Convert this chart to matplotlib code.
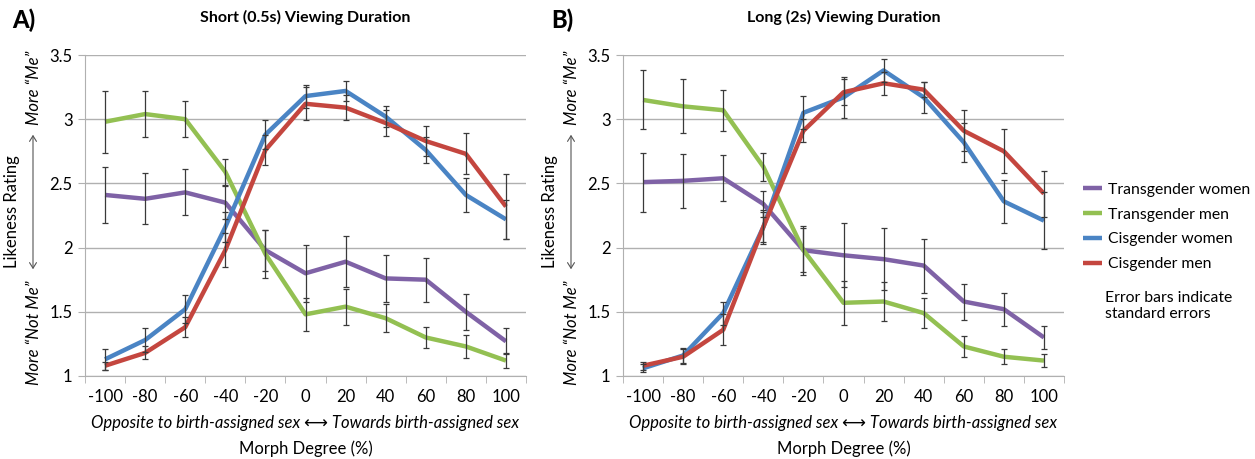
"""Likeness ratings by morph degree, short vs long viewing duration"""
import matplotlib
matplotlib.use('Agg')
import matplotlib.pyplot as plt

plt.rcParams['font.family'] = ['Lato', 'DejaVu Sans']

MORPH = [-100, -80, -60, -40, -20, 0, 20, 40, 60, 80, 100]
GROUPS = ['Transgender women', 'Transgender men', 'Cisgender women', 'Cisgender men']
COLORS = ['#7F62A6', '#93C052', '#4A84C4', '#C4463F']

# short (0.5s) viewing
tw_short = [2.41, 2.38, 2.43, 2.35, 1.98, 1.80, 1.89, 1.76, 1.75, 1.50, 1.27]
tw_short_se = [0.22, 0.20, 0.18, 0.13, 0.16, 0.22, 0.20, 0.18, 0.17, 0.14, 0.10]
tm_short = [2.98, 3.04, 3.00, 2.59, 1.95, 1.48, 1.54, 1.45, 1.30, 1.23, 1.12]
tm_short_se = [0.24, 0.18, 0.14, 0.10, 0.19, 0.13, 0.14, 0.11, 0.08, 0.09, 0.06]
cw_short = [1.13, 1.28, 1.52, 2.16, 2.88, 3.18, 3.22, 3.02, 2.76, 2.41, 2.22]
cw_short_se = [0.08, 0.09, 0.11, 0.12, 0.11, 0.09, 0.08, 0.08, 0.10, 0.13, 0.15]
cm_short = [1.08, 1.18, 1.38, 1.98, 2.76, 3.12, 3.09, 2.97, 2.83, 2.73, 2.32]
cm_short_se = [0.03, 0.05, 0.08, 0.13, 0.12, 0.13, 0.10, 0.10, 0.12, 0.16, 0.25]

# long (2s) viewing
tw_long = [2.51, 2.52, 2.54, 2.34, 1.98, 1.94, 1.91, 1.86, 1.58, 1.52, 1.30]
tw_long_se = [0.23, 0.21, 0.18, 0.10, 0.17, 0.25, 0.24, 0.21, 0.14, 0.13, 0.09]
tm_long = [3.15, 3.10, 3.07, 2.63, 1.98, 1.57, 1.58, 1.49, 1.23, 1.15, 1.12]
tm_long_se = [0.23, 0.21, 0.16, 0.11, 0.19, 0.17, 0.15, 0.12, 0.08, 0.06, 0.05]
cw_long = [1.06, 1.16, 1.49, 2.16, 3.05, 3.17, 3.38, 3.17, 2.82, 2.36, 2.21]
cw_long_se = [0.03, 0.06, 0.09, 0.12, 0.13, 0.16, 0.09, 0.12, 0.15, 0.17, 0.22]
cm_long = [1.08, 1.15, 1.36, 2.16, 2.91, 3.21, 3.28, 3.23, 2.91, 2.75, 2.42]
cm_long_se = [0.03, 0.06, 0.12, 0.13, 0.09, 0.10, 0.09, 0.06, 0.16, 0.17, 0.18]

YTICKS = [1, 1.5, 2, 2.5, 3, 3.5]
YTICK_LABELS = ['1', '1.5', '2', '2.5', '3', '3.5']

W, H = 1255, 459
GRID_COLOR = '#B0B0B0'
FS = 12
LEGEND_FS = 11.3


def px(x, y):
    "pixel coords (from top-left) -> figure fraction"
    return x / W, 1 - y / H


def draw_panel(fig, left_px, letter, title, series):
    x0, y0 = px(left_px, 376)
    ax = fig.add_axes([x0, y0, 441 / W, 321 / H])
    pos = list(range(len(MORPH)))
    for (vals, errs), color, label in zip(series, COLORS, GROUPS):
        ax.plot(pos, vals, color=color, linewidth=3.2, label=label,
                solid_capstyle='butt', zorder=3)
        ax.errorbar(pos, vals, yerr=errs, fmt='none', ecolor='#3a3a3a',
                    elinewidth=0.9, capsize=2.5, capthick=0.9, zorder=4)

    ax.set_xlim(-0.5, len(MORPH) - 0.5)
    ax.set_ylim(1, 3.5)
    ax.set_xticks(pos)
    ax.set_xticklabels([str(m) for m in MORPH], fontsize=FS)
    ax.set_xticks([p - 0.5 for p in pos] + [pos[-1] + 0.5], minor=True)
    ax.tick_params(axis='x', which='major', length=0, pad=9)
    ax.tick_params(axis='x', which='minor', length=5, color=GRID_COLOR, direction='out')
    ax.set_yticks(YTICKS)
    ax.set_yticklabels(YTICK_LABELS, fontsize=FS)
    ax.tick_params(axis='y', length=5, color=GRID_COLOR, pad=4)
    ax.yaxis.grid(True, color=GRID_COLOR, linewidth=1)
    ax.set_axisbelow(True)
    for side in ['top', 'right']:
        ax.spines[side].set_visible(False)
    for side in ['left', 'bottom']:
        ax.spines[side].set_color(GRID_COLOR)

    ax.text(0.5, -0.145, 'Opposite to birth-assigned sex \u27f7 Towards birth-assigned sex',
            transform=ax.transAxes, ha='center', va='center', fontsize=FS,
            style='italic')
    ax.text(0.5, -0.225, 'Morph Degree (%)', transform=ax.transAxes,
            ha='center', va='center', fontsize=FS)
    ax.set_title(title, fontsize=11.5, fontweight='bold', pad=24)

    # y axis annotations
    fig.text(*px(left_px - 61, 20), letter, fontsize=17, fontweight='black',
             ha='center', va='center')
    fig.text(*px(left_px - 73, 212), 'Likeness Rating', rotation=90,
             fontsize=FS, ha='center', va='center')
    fig.text(*px(left_px - 51, 88), 'More \u201cMe\u201d', rotation=90,
             fontsize=FS, style='italic', ha='center', va='center')
    fig.text(*px(left_px - 51, 333), 'More \u201cNot Me\u201d', rotation=90,
             fontsize=FS, style='italic', ha='center', va='center')
    fig.add_artist(matplotlib.patches.FancyArrowPatch(
        px(left_px - 52, 132), px(left_px - 52, 272), transform=fig.transFigure,
        arrowstyle='<->,head_length=4,head_width=2.5', color='#555555',
        linewidth=0.8))
    return ax


fig = plt.figure(figsize=(W / 100, H / 100), dpi=100)
short = [(tw_short, tw_short_se), (tm_short, tm_short_se),
         (cw_short, cw_short_se), (cm_short, cm_short_se)]
long_ = [(tw_long, tw_long_se), (tm_long, tm_long_se),
         (cw_long, cw_long_se), (cm_long, cm_long_se)]
draw_panel(fig, 85, 'A)', 'Short (0.5s) Viewing Duration', short)
ax_b = draw_panel(fig, 623, 'B)', 'Long (2s) Viewing Duration', long_)

handles, labels = ax_b.get_legend_handles_labels()
fig.legend(handles, labels, loc='center left', bbox_to_anchor=px(1080, 227),
           frameon=False, fontsize=LEGEND_FS, handlelength=1.2, handletextpad=0.38,
           labelspacing=0.68, borderpad=0.2, borderaxespad=0)
fig.text(*px(1105, 306), 'Error bars indicate\nstandard errors', fontsize=LEGEND_FS,
         ha='left', va='center', linespacing=1.2)

fig.savefig('out.png', dpi=100)
